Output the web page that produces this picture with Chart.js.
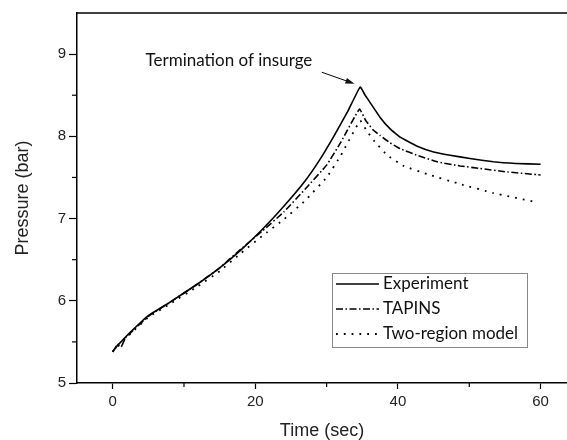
<!DOCTYPE html>
<html>
<head>
<meta charset="utf-8">
<script src="https://cdn.jsdelivr.net/npm/chart.js@4"></script>
<style>
  html, body { margin: 0; padding: 0; background: #fff; overflow: hidden; }
  #wrap { width: 567px; height: 440px; position: relative; }
</style>
</head>
<body>
<div id="wrap"><canvas id="pressureChart"></canvas></div>
<script>
// Experiment
const expTime = [0, 0.8, 1.5, 2.5, 5, 8, 12, 15, 18, 21, 24, 27, 29, 31, 33, 34.7, 35.4, 36.1, 37.5, 38.9, 40.3, 42.7, 45, 47.3, 50.1, 53.4, 56.5, 60];
const expPressure = [5.38, 5.47, 5.53, 5.62, 5.82, 5.98, 6.21, 6.40, 6.62, 6.87, 7.15, 7.46, 7.71, 8.00, 8.31, 8.60, 8.50, 8.41, 8.23, 8.09, 7.99, 7.88, 7.81, 7.77, 7.73, 7.69, 7.67, 7.66];

// TAPINS
const tapTime = [0, 0.7, 1.2, 1.8, 2.5, 5, 8, 12, 15, 18, 21, 24, 27, 30, 32, 34.6, 35.5, 36.5, 37.5, 38.9, 40.3, 42.7, 45.5, 48.7, 51.5, 55, 60];
const tapPressure = [5.38, 5.47, 5.44, 5.55, 5.61, 5.81, 5.98, 6.21, 6.40, 6.63, 6.85, 7.08, 7.36, 7.65, 7.93, 8.33, 8.19, 8.08, 8.01, 7.92, 7.85, 7.77, 7.69, 7.64, 7.61, 7.57, 7.53];

// Two-region model
const trmTime = [0, 2.5, 5, 8, 12, 15, 18, 21, 24, 27, 30, 32, 34.7, 35.6, 36.6, 38.5, 40.8, 44.1, 48.7, 53.4, 59.4];
const trmPressure = [5.38, 5.60, 5.80, 5.96, 6.18, 6.36, 6.58, 6.79, 6.99, 7.22, 7.50, 7.77, 8.19, 8.07, 7.95, 7.77, 7.64, 7.54, 7.42, 7.31, 7.20];

const seriesNames = ['Experiment', 'TAPINS', 'Two-region model'];
const xTickLabels = [0, 20, 40, 60];
const yTickLabels = [5, 6, 7, 8, 9];

// annotation (data units)
const noteText = 'Termination of insurge';
const noteAt = [16.3, 8.92];
const arrowFrom = [29.3, 8.78];
const arrowTo = [33.9, 8.64];

const dashes = [[], [7, 2.5, 1.5, 2.5], [1.8, 6]];
const widths = [1.6, 1.6, 1.8];

function toPoints(xs, ys) {
    return xs.map((t, i) => ({ x: t, y: ys[i] }));
}

const overlay = {
    id: 'overlay',
    afterDraw(chart) {
        const { ctx, chartArea, scales: { x, y } } = chart;
        ctx.save();
        ctx.strokeStyle = '#000';
        ctx.lineWidth = 1.5;

        // top frame line
        ctx.beginPath();
        ctx.moveTo(chartArea.left, chartArea.top);
        ctx.lineTo(chartArea.right, chartArea.top);
        ctx.stroke();

        // minor ticks
        ctx.lineWidth = 1.2;
        x.ticks.forEach(t => {
            if (!xTickLabels.includes(t.value)) {
                const px = x.getPixelForValue(t.value);
                ctx.beginPath();
                ctx.moveTo(px, chartArea.bottom);
                ctx.lineTo(px, chartArea.bottom + 4);
                ctx.stroke();
            }
        });
        y.ticks.forEach(t => {
            if (!yTickLabels.includes(t.value) && t.value < 9.5) {
                const py = y.getPixelForValue(t.value);
                ctx.beginPath();
                ctx.moveTo(chartArea.left, py);
                ctx.lineTo(chartArea.left - 5, py);
                ctx.stroke();
            }
        });

        // annotation text and arrow
        ctx.fillStyle = '#111';
        ctx.font = '17px Lato';
        ctx.textAlign = 'center';
        ctx.textBaseline = 'middle';
        ctx.fillText(noteText, x.getPixelForValue(noteAt[0]), y.getPixelForValue(noteAt[1]));

        const ax0 = x.getPixelForValue(arrowFrom[0]), ay0 = y.getPixelForValue(arrowFrom[1]);
        const ax1 = x.getPixelForValue(arrowTo[0]), ay1 = y.getPixelForValue(arrowTo[1]);
        const ang = Math.atan2(ay1 - ay0, ax1 - ax0);
        ctx.lineWidth = 1;
        ctx.beginPath();
        ctx.moveTo(ax0, ay0);
        ctx.lineTo(ax1 - 8 * Math.cos(ang), ay1 - 8 * Math.sin(ang));
        ctx.stroke();
        ctx.beginPath();
        ctx.moveTo(ax1, ay1);
        ctx.lineTo(ax1 - 9 * Math.cos(ang) + 3 * Math.sin(ang), ay1 - 9 * Math.sin(ang) - 3 * Math.cos(ang));
        ctx.lineTo(ax1 - 9 * Math.cos(ang) - 3 * Math.sin(ang), ay1 - 9 * Math.sin(ang) + 3 * Math.cos(ang));
        ctx.closePath();
        ctx.fill();

        // legend box
        const bx = chartArea.left + 255, by = chartArea.top + 260, bw = 195, bh = 74;
        ctx.strokeStyle = '#888';
        ctx.lineWidth = 1;
        ctx.strokeRect(bx + 0.5, by + 0.5, bw, bh);
        ctx.textAlign = 'left';
        ctx.font = '17px Lato';
        seriesNames.forEach((name, i) => {
            const ry = by + 11 + i * 25;
            ctx.strokeStyle = '#000';
            ctx.lineWidth = widths[i];
            ctx.setLineDash(dashes[i]);
            ctx.beginPath();
            ctx.moveTo(bx + 4, ry);
            ctx.lineTo(bx + 47, ry);
            ctx.stroke();
            ctx.setLineDash([]);
            ctx.fillStyle = '#111';
            ctx.fillText(name, bx + 51, ry);
        });
        ctx.restore();
    }
};

const lineData = [toPoints(expTime, expPressure), toPoints(tapTime, tapPressure), toPoints(trmTime, trmPressure)];

new Chart(document.getElementById('pressureChart'), {
    type: 'line',
    data: {
        datasets: seriesNames.map((name, i) => ({
            label: name,
            data: lineData[i],
            borderColor: '#000',
            borderWidth: widths[i],
            borderDash: dashes[i],
            pointRadius: 0,
            tension: 0.1,
            fill: false
        }))
    },
    options: {
        responsive: true,
        maintainAspectRatio: false,
        animation: false,
        layout: { padding: { top: 13, right: 0, left: 0, bottom: 0 } },
        plugins: {
            legend: { display: false },
            tooltip: { enabled: false }
        },
        scales: {
            x: {
                type: 'linear',
                min: -5,
                max: 63.7,
                afterFit(scale) { scale.height = 57; },
                border: { display: true, color: '#000', width: 1.5 },
                grid: {
                    drawOnChartArea: false,
                    tickLength: 6,
                    tickWidth: 1.2,
                    tickColor: c => (xTickLabels.includes(c.tick.value) ? '#000' : 'transparent')
                },
                ticks: {
                    stepSize: 10,
                    includeBounds: false,
                    maxRotation: 0,
                    padding: 4,
                    color: '#222',
                    font: { family: 'Liberation Sans', size: 15 },
                    callback: v => (xTickLabels.includes(v) ? String(v) : '')
                },
                title: {
                    display: true,
                    text: 'Time (sec)',
                    color: '#222',
                    font: { family: 'Liberation Sans', size: 18, lineHeight: 1 },
                    padding: { top: 0, bottom: 0 }
                }
            },
            y: {
                min: 5,
                max: 9.5,
                afterFit(scale) { scale.width = 77; },
                border: { display: true, color: '#000', width: 1.5 },
                grid: {
                    drawOnChartArea: false,
                    tickLength: 8,
                    tickWidth: 1.2,
                    tickColor: c => (yTickLabels.includes(c.tick.value) ? '#000' : 'transparent')
                },
                ticks: {
                    stepSize: 0.5,
                    padding: 3,
                    color: '#222',
                    font: { family: 'Liberation Sans', size: 15 },
                    callback: v => (yTickLabels.includes(v) ? String(v) : '')
                },
                title: {
                    display: true,
                    text: 'Pressure (bar)',
                    color: '#222',
                    font: { family: 'Liberation Sans', size: 18, lineHeight: 1 },
                    padding: { top: 14, bottom: 0 }
                }
            }
        }
    },
    plugins: [overlay]
});
</script>
</body>
</html>
